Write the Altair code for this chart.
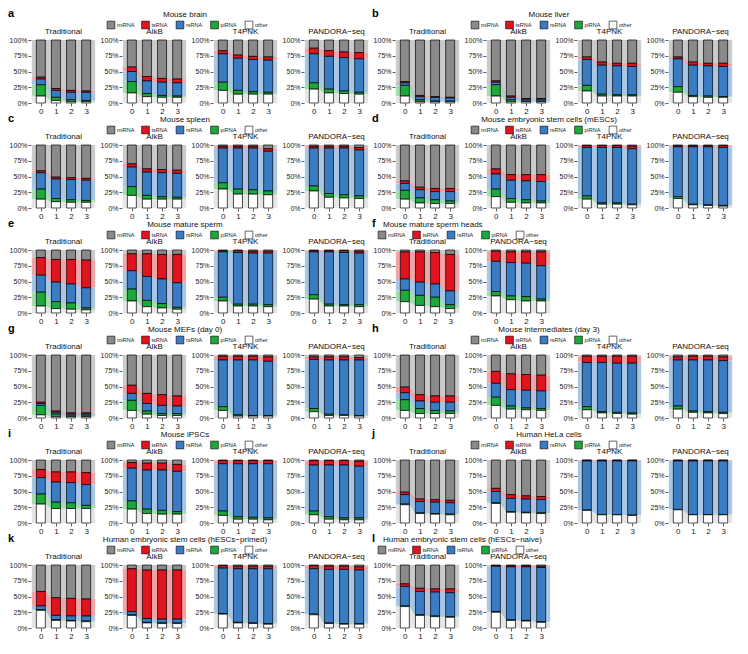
import altair as alt
import pandas as pd

# ---------------- categories / styling ----------------
CATS = ["miRNA", "tsRNA", "rsRNA", "piRNA", "other"]
STACK_RANK = [4, 3, 2, 1, 0]          # other at the bottom, miRNA on top
BAR_COLORS = ["#8a8a8a", "#e0141e", "#3a7cc3", "#1ca83b", "#ffffff"]
FLOW_COLORS = ["#cbcbcb", "#f2a3a6", "#a9c6e6", "#a5ddb0", "#e6e6e6"]
STEPS = [0, 1, 2, 3]
METHODS4 = ["Traditional", "AlkB", "T4PNK", "PANDORA\u2212seq"]
METHODS2 = ["Traditional", "PANDORA\u2212seq"]
Y_TICKS = [0, 25, 50, 75, 100]

# ---------------- data (percent; rows = methods, cols = steps 0..3) ----------------
# a  Mouse brain
A_MIRNA = [[59, 77, 80, 81], [43, 58, 61, 62], [17, 24, 26, 27], [13, 17, 19, 20]]
A_TSRNA = [[3, 3, 3, 2], [7, 7, 6, 6], [5, 5, 5, 5], [9, 9, 9, 10]]
A_RSRNA = [[9, 11, 12, 13], [16, 20, 21, 21], [45, 51, 51, 51], [46, 52, 53, 53]]
A_PIRNA = [[18, 5, 3, 2], [18, 5, 3, 2], [13, 6, 4, 3], [10, 6, 4, 3]]
A_OTHER = [[11, 4, 2, 2], [16, 10, 9, 9], [20, 14, 14, 14], [22, 16, 15, 14]]
# b  Mouse liver
B_MIRNA = [[66, 88, 90, 91], [65, 89, 93, 93], [27, 35, 37, 37], [27, 35, 37, 37]]
B_TSRNA = [[2, 2, 1, 1], [2, 2, 1, 1], [4, 5, 4, 5], [3, 5, 4, 5]]
B_RSRNA = [[4, 5, 6, 5], [4, 4, 3, 3], [41, 46, 46, 45], [44, 48, 48, 48]]
B_PIRNA = [[17, 3, 1, 1], [18, 3, 1, 1], [9, 3, 2, 2], [9, 2, 2, 1]]
B_OTHER = [[11, 2, 2, 2], [11, 2, 2, 2], [19, 11, 11, 11], [17, 10, 9, 9]]
# c  Mouse spleen
C_MIRNA = [[41, 51, 52, 53], [30, 38, 39, 40], [2, 2, 2, 6], [2, 2, 2, 4]]
C_TSRNA = [[3, 3, 3, 3], [5, 5, 5, 5], [3, 3, 3, 4], [3, 3, 3, 4]]
C_RSRNA = [[26, 31, 32, 32], [31, 37, 38, 38], [55, 65, 66, 63], [60, 72, 74, 73]]
C_PIRNA = [[16, 5, 4, 3], [14, 6, 4, 3], [10, 8, 7, 6], [8, 6, 5, 4]]
C_OTHER = [[14, 10, 9, 9], [20, 14, 14, 14], [30, 22, 22, 21], [27, 17, 16, 15]]
# d  Mouse embryonic stem cells (mESCs)
D_MIRNA = [[57, 67, 69, 69], [38, 47, 47, 47], [1, 1, 1, 2], [1, 1, 1, 1]]
D_TSRNA = [[4, 4, 5, 5], [8, 9, 10, 11], [3, 3, 3, 4], [2, 2, 2, 3]]
D_RSRNA = [[11, 13, 13, 15], [24, 29, 30, 31], [77, 88, 88, 88], [79, 91, 92, 92]]
D_PIRNA = [[14, 8, 6, 4], [12, 6, 5, 3], [5, 2, 2, 1], [3, 1, 1, 1]]
D_OTHER = [[14, 8, 7, 7], [18, 9, 8, 8], [14, 6, 6, 5], [15, 5, 4, 3]]
# e  Mouse mature sperm
E_MIRNA = [[12, 15, 15, 16], [6, 6, 7, 7], [1, 1, 2, 2], [1, 1, 1, 2]]
E_TSRNA = [[28, 36, 39, 44], [27, 36, 39, 45], [2, 3, 3, 3], [2, 2, 3, 3]]
E_RSRNA = [[27, 31, 30, 32], [29, 38, 39, 39], [72, 82, 81, 82], [68, 83, 83, 82]]
E_PIRNA = [[22, 11, 10, 3], [19, 10, 7, 3], [6, 3, 3, 3], [7, 3, 2, 3]]
E_OTHER = [[11, 7, 6, 5], [19, 10, 8, 6], [19, 11, 11, 10], [22, 11, 11, 10]]
# f  Mouse mature sperm heads
F_MIRNA = [[3, 3, 4, 7], [2, 3, 3, 3]]
F_TSRNA = [[43, 48, 50, 58], [16, 17, 18, 22]]
F_RSRNA = [[18, 21, 21, 22], [48, 53, 53, 53]]
F_PIRNA = [[18, 16, 15, 6], [7, 6, 7, 3]]
F_OTHER = [[18, 12, 10, 7], [27, 21, 19, 19]]
# g  Mouse MEFs (day 0)
G_MIRNA = [[75, 89, 92, 92], [48, 61, 63, 65], [2, 2, 2, 3], [3, 3, 3, 4]]
G_TSRNA = [[2, 2, 2, 2], [13, 16, 17, 16], [6, 6, 6, 7], [4, 5, 5, 4]]
G_RSRNA = [[3, 3, 3, 3], [11, 12, 13, 12], [74, 87, 88, 86], [78, 86, 87, 88]]
G_PIRNA = [[15, 4, 1, 1], [16, 5, 3, 3], [6, 2, 1, 1], [5, 2, 1, 1]]
G_OTHER = [[5, 2, 2, 2], [12, 6, 4, 4], [12, 3, 3, 3], [10, 4, 4, 3]]
# h  Mouse intermediates (day 3)
H_MIRNA = [[51, 63, 65, 65], [26, 30, 31, 32], [2, 2, 2, 2], [3, 2, 2, 3]]
H_TSRNA = [[9, 10, 10, 10], [19, 25, 25, 25], [10, 10, 11, 11], [5, 6, 6, 6]]
H_RSRNA = [[11, 12, 13, 14], [22, 26, 28, 28], [70, 78, 78, 79], [73, 81, 82, 82]]
H_PIRNA = [[17, 8, 5, 4], [13, 5, 3, 3], [5, 2, 2, 2], [5, 2, 2, 2]]
H_OTHER = [[12, 7, 7, 7], [20, 14, 13, 12], [13, 8, 7, 6], [14, 9, 8, 7]]
# i  Mouse iPSCs
I_MIRNA = [[15, 19, 19, 20], [4, 5, 5, 7], [1, 1, 1, 1], [1, 1, 1, 2]]
I_TSRNA = [[13, 16, 17, 19], [9, 11, 11, 11], [5, 5, 5, 5], [7, 7, 7, 8]]
I_RSRNA = [[26, 32, 32, 33], [52, 62, 64, 64], [75, 84, 85, 86], [73, 82, 84, 82]]
I_PIRNA = [[16, 10, 9, 5], [13, 7, 6, 4], [7, 4, 3, 3], [6, 4, 3, 3]]
I_OTHER = [[30, 23, 23, 23], [22, 15, 14, 14], [12, 6, 6, 5], [13, 6, 5, 5]]
# j  Human HeLa cells
J_MIRNA = [[51, 62, 63, 64], [45, 55, 57, 58], [0.5, 0.5, 0.5, 0.5], [0.5, 0.5, 0.5, 0.5]]
J_TSRNA = [[4, 4, 4, 4], [5, 6, 5, 5], [1, 1, 1, 1], [1, 1, 1, 1]]
J_RSRNA = [[15, 18, 18, 18], [18, 21, 21, 21], [78, 85, 85, 86], [77, 85, 85, 85]]
J_PIRNA = [[1, 1, 1, 1], [1, 1, 1, 1], [0.5, 0.5, 0.5, 0.5], [0.5, 0.5, 0.5, 0.5]]
J_OTHER = [[29, 15, 14, 13], [31, 17, 16, 15], [20, 13, 13, 12], [21, 13, 13, 13]]
# k  Human embryonic stem cells (hESCs-primed)
K_MIRNA = [[42, 52, 53, 54], [6, 8, 8, 8], [1, 2, 2, 2], [1, 2, 2, 3]]
K_TSRNA = [[23, 28, 28, 27], [68, 77, 78, 78], [4, 4, 4, 4], [5, 5, 5, 5]]
K_RSRNA = [[6, 7, 7, 8], [5, 6, 6, 6], [72, 85, 86, 87], [72, 85, 86, 85]]
K_PIRNA = [[1, 1, 1, 1], [1, 1, 1, 1], [1, 1, 1, 1], [1, 1, 1, 1]]
K_OTHER = [[28, 12, 11, 10], [20, 8, 7, 7], [22, 8, 7, 6], [21, 7, 6, 6]]
# l  Human embryonic stem cells (hESCs-naive)
L_MIRNA = [[30, 37, 38, 38], [1, 1, 1, 2]]
L_TSRNA = [[4, 5, 5, 6], [1, 2, 2, 2]]
L_RSRNA = [[31, 37, 38, 38], [72, 84, 85, 86]]
L_PIRNA = [[1, 1, 1, 1], [1, 1, 1, 1]]
L_OTHER = [[34, 20, 18, 17], [25, 12, 11, 9]]

PANELS = [
    ("a", "Mouse brain", METHODS4, [A_MIRNA, A_TSRNA, A_RSRNA, A_PIRNA, A_OTHER]),
    ("b", "Mouse liver", METHODS4, [B_MIRNA, B_TSRNA, B_RSRNA, B_PIRNA, B_OTHER]),
    ("c", "Mouse spleen", METHODS4, [C_MIRNA, C_TSRNA, C_RSRNA, C_PIRNA, C_OTHER]),
    ("d", "Mouse embryonic stem cells (mESCs)", METHODS4, [D_MIRNA, D_TSRNA, D_RSRNA, D_PIRNA, D_OTHER]),
    ("e", "Mouse mature sperm", METHODS4, [E_MIRNA, E_TSRNA, E_RSRNA, E_PIRNA, E_OTHER]),
    ("f", "Mouse mature sperm heads", METHODS2, [F_MIRNA, F_TSRNA, F_RSRNA, F_PIRNA, F_OTHER]),
    ("g", "Mouse MEFs (day 0)", METHODS4, [G_MIRNA, G_TSRNA, G_RSRNA, G_PIRNA, G_OTHER]),
    ("h", "Mouse intermediates (day 3)", METHODS4, [H_MIRNA, H_TSRNA, H_RSRNA, H_PIRNA, H_OTHER]),
    ("i", "Mouse iPSCs", METHODS4, [I_MIRNA, I_TSRNA, I_RSRNA, I_PIRNA, I_OTHER]),
    ("j", "Human HeLa cells", METHODS4, [J_MIRNA, J_TSRNA, J_RSRNA, J_PIRNA, J_OTHER]),
    ("k", "Human embryonic stem cells (hESCs\u2212primed)", METHODS4, [K_MIRNA, K_TSRNA, K_RSRNA, K_PIRNA, K_OTHER]),
    ("l", "Human embryonic stem cells (hESCs\u2212naive)", METHODS2, [L_MIRNA, L_TSRNA, L_RSRNA, L_PIRNA, L_OTHER]),
]

# ---------------- layout ----------------
PW, PH = 65, 63          # plot area of one sub-panel
HH = 20                  # height of a header cell
GAP = 26                 # horizontal gap between plot areas
VGAP = 11                # vertical gap between grid rows
HALF = 0.24              # half bar width in step units (flows start at bar edges)
FONT = "Liberation Sans"

X_AXIS = alt.Axis(values=STEPS, format="d", title=None, labelFontSize=8)
Y_AXIS = alt.Axis(values=Y_TICKS, labelExpr="datum.value + '%'", title=None, labelFontSize=7)


def xsc():
    return alt.Scale(domain=[-0.32, 3.32], nice=False, zero=False)


def ysc():
    return alt.Scale(domain=[0, 100], nice=False)


def subplot(method, cat_lists, mi):
    rows = []
    for ci, cat in enumerate(CATS):
        for s, v in zip(STEPS, cat_lists[ci][mi]):
            rows.append({"step": s, "cat": cat, "rank": STACK_RANK[ci], "pct": v})
    df = pd.DataFrame(rows)
    base = alt.Chart(df).transform_window(
        top="sum(pct)", groupby=["step"], sort=[alt.SortField("rank", order="ascending")]
    ).transform_calculate(bot="datum.top - datum.pct")

    # light bands behind each bar, half a step wide on each side
    bands = [
        base.transform_filter(alt.datum.cat == cat).mark_bar(
            width=18, clip=True, color=FLOW_COLORS[ci]
        ).encode(
            x=alt.X("step:Q", scale=xsc(), axis=X_AXIS),
            y=alt.Y("top:Q", scale=ysc(), axis=Y_AXIS),
            y2="bot:Q",
        )
        for ci, cat in enumerate(CATS)
    ]
    # smooth flows (painted from the top category down, each to the baseline)
    flows = [
        base.transform_filter(alt.datum.cat == cat).transform_calculate(
            xl="datum.step - %f" % HALF, xr="datum.step + %f" % HALF
        ).transform_fold(["xl", "xr"], as_=["edge", "xpos"]).mark_area(
            interpolate="monotone", color=FLOW_COLORS[ci]
        ).encode(
            x=alt.X("xpos:Q", scale=xsc(), axis=X_AXIS),
            y=alt.Y("top:Q", scale=ysc(), axis=Y_AXIS, stack=None),
        )
        for ci, cat in enumerate(CATS)
    ]
    bars = alt.Chart(df).mark_bar(
        width=9, stroke="black", strokeWidth=0.7
    ).encode(
        x=alt.X("step:Q", scale=xsc(), axis=X_AXIS),
        y=alt.Y("pct:Q", stack="zero", scale=ysc(), axis=Y_AXIS),
        fill=alt.Fill("cat:N", scale=alt.Scale(domain=CATS, range=BAR_COLORS), legend=None),
        order=alt.Order("rank:Q", sort="ascending"),
    )
    return alt.layer(*bands, *flows, bars).properties(
        width=PW, height=PH,
        title=alt.TitleParams(method, fontSize=8, offset=0, fontWeight="normal"),
    )


def header(letter, title, n):
    leg = pd.DataFrame({"cat": CATS})
    start = 80 if n == 4 else -13
    xs = alt.Scale(type="point", domain=CATS, range=[start, start + 4 * 34.5], padding=0)
    boxes = alt.Chart(leg).mark_square(size=60, stroke="black", strokeWidth=0.6, opacity=1).encode(
        x=alt.X("cat:N", scale=xs, axis=None),
        y=alt.value(16),
        fill=alt.Fill("cat:N", scale=alt.Scale(domain=CATS, range=BAR_COLORS), legend=None),
    )
    labels = alt.Chart(leg).mark_text(align="left", dx=6, fontSize=5.5, color="#222").encode(
        x=alt.X("cat:N", scale=xs, axis=None),
        y=alt.value(16),
        text="cat:N",
    )
    let = alt.Chart(pd.DataFrame({"t": [letter]})).mark_text(
        fontWeight="bold", fontSize=11, align="left", baseline="middle", color="black"
    ).encode(x=alt.value(-23), y=alt.value(5), text="t:N")
    if n == 4:
        ttl = alt.Chart(pd.DataFrame({"t": [title]})).mark_text(
            fontSize=8, align="center", baseline="middle", color="#111"
        ).encode(x=alt.value(154), y=alt.value(6), text="t:N")
    else:
        ttl = alt.Chart(pd.DataFrame({"t": [title]})).mark_text(
            fontSize=8, align="left", baseline="middle", color="#111"
        ).encode(x=alt.value(-12), y=alt.value(6), text="t:N")
    return alt.layer(boxes, labels, let, ttl).properties(width=PW, height=HH)


def blank(h):
    return alt.Chart(pd.DataFrame({"t": [""]})).mark_text().encode(text="t:N").properties(width=PW, height=h)


cells = []
for r in range(0, len(PANELS), 2):
    head_row, plot_row = [], []
    for letter, title, methods, cat_lists in (PANELS[r], PANELS[r + 1]):
        head_row.append(header(letter, title, len(methods)))
        head_row += [blank(HH) for _ in range(len(methods) - 1)]
        plot_row += [subplot(m, cat_lists, i) for i, m in enumerate(methods)]
    head_row += [blank(HH) for _ in range(8 - len(head_row))]
    plot_row += [blank(PH) for _ in range(8 - len(plot_row))]
    cells += head_row + plot_row

chart = alt.concat(
    *cells, columns=8, spacing={"row": VGAP, "column": GAP}, bounds="flush", align="each"
).properties(
    padding={"left": 0, "top": 0, "right": 0, "bottom": 0}
).configure(font=FONT).configure_view(strokeWidth=0).configure_axis(
    grid=False, domain=False, ticks=True, tickSize=3, tickColor="#333", tickWidth=0.8,
    labelColor="#1a1a1a", labelPadding=1, labelFont=FONT,
).configure_title(font=FONT, color="#111")

chart.save("out.html", embed_options={"renderer": "svg", "actions": False})
